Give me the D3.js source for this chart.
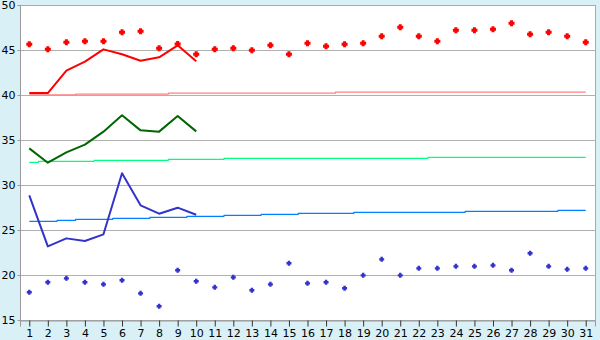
<!DOCTYPE html>
<html><head><meta charset="utf-8">
<script src="https://cdn.jsdelivr.net/npm/d3@7"></script>
<style>body{margin:0;background:#d9f0f7;}svg{display:block}</style>
</head><body>
<svg id="c" width="600" height="340"></svg>
<script>
const days = d3.range(1, 32);
const yTicks = [15, 20, 25, 30, 35, 40, 45, 50];

const redPoints = [45.63,45.07,45.85,45.96,45.96,46.96,47.07,45.19,45.67,44.52,
  45.07,45.19,44.96,45.52,44.52,45.74,45.41,45.63,45.74,46.52,47.52,
  46.52,45.96,47.19,47.19,47.3,47.96,46.74,46.96,46.52,45.85];
const redLine = [40.22,40.22,42.7,43.7,45.07,44.52,43.81,44.19,45.52,43.74];
const pinkLine = [40.02,40.02,40.02,40.1,40.1,40.1,40.1,40.1,40.2,40.2,40.2,40.2,40.2,40.2,40.2,40.2,40.2,
  40.33,40.33,40.33,40.33,40.33,40.33,40.33,40.33,40.33,40.33,40.33,40.33,40.33,40.33];
const greenLine = [34.07,32.48,33.63,34.48,35.93,37.74,36.07,35.93,37.67,35.96];
const lightGreenLine = [32.52,32.63,32.63,32.63,32.74,32.74,32.74,32.74,32.85,32.85,32.85,
  32.96,32.96,32.96,32.96,32.96,32.96,32.96,32.96,32.96,32.96,32.96,
  33.07,33.07,33.07,33.07,33.07,33.07,33.07,33.07,33.07];
const blueLine = [28.85,23.18,24.07,23.78,24.52,31.3,27.74,26.81,27.48,26.7];
const lightBlueLine = [25.96,25.96,26.07,26.19,26.19,26.3,26.3,26.41,26.41,26.52,26.52,
  26.63,26.63,26.74,26.74,26.85,26.85,26.85,26.96,26.96,26.96,26.96,26.96,26.96,
  27.07,27.07,27.07,27.07,27.07,27.19,27.19];
const bluePoints = [18.08,19.19,19.63,19.19,18.96,19.41,17.96,16.52,20.52,19.3,
  18.63,19.74,18.3,18.96,21.3,19.07,19.19,18.52,19.96,21.74,19.96,
  20.74,20.74,20.96,20.96,21.07,20.52,22.41,20.96,20.63,20.74];

const L = 20, R = 595, T = 5, B = 320;
const svg = d3.select("#c");
const x = d3.scalePoint().domain(days).range([L, R]).padding(0.5);
const y = d3.scaleLinear().domain([15, 50]).range([B, T]);

svg.append("rect").attr("x", L + 0.5).attr("y", T + 0.5).attr("width", R - L).attr("height", B - T)
  .attr("fill", "#fff").attr("stroke", "#aaaaaa");

// gridlines
svg.append("g").selectAll("line").data(yTicks.filter(v => v > 15 && v < 50)).join("line")
  .attr("x1", L).attr("x2", R).attr("y1", d => Math.round(y(d)) + 0.5).attr("y2", d => Math.round(y(d)) + 0.5)
  .attr("stroke", "#b0b0b0");

// axes
const ya = svg.append("g").attr("transform", `translate(${L + 0.5},0)`)
  .call(d3.axisLeft(y).tickValues(yTicks).tickSize(3).tickPadding(2).tickFormat(d3.format("d")));
const xa = svg.append("g").attr("transform", `translate(0,${B + 0.5})`)
  .call(d3.axisBottom(x).tickSize(6).tickPadding(3));
[ya, xa].forEach(g => {
  g.select(".domain").attr("stroke", "#999");
  g.selectAll(".tick line").attr("stroke", "#333");
  g.selectAll("text").attr("font-family", "DejaVu Sans, Verdana, sans-serif").attr("font-size", 11).attr("fill", "#000");
});
ya.selectAll(".tick line").attr("stroke", "#999");
ya.select(".domain").remove();
svg.append("line").attr("x1", L + 0.5).attr("x2", L + 0.5).attr("y1", T).attr("y2", B + 1).attr("stroke", "#999");

function drawLine(data, color, width, curve) {
  const ln = d3.line().x((d, i) => x(days[i])).y(d => y(d)).curve(curve || d3.curveLinear);
  svg.append("path").datum(data).attr("d", ln).attr("fill", "none")
    .attr("stroke", color).attr("stroke-width", width).attr("stroke-linejoin", "round");
}

drawLine(pinkLine, "#ff8080", 1.2, d3.curveStep);
drawLine(lightGreenLine, "#00ff80", 1.2, d3.curveStep);
drawLine(lightBlueLine, "#0080ff", 1.2, d3.curveStep);
drawLine(redLine, "#ff0000", 2);
drawLine(greenLine, "#006600", 2);
drawLine(blueLine, "#3333cc", 2);

function plus(s, t) {
  const a = s / 2, b = t / 2;
  return `M${-b},${-a}H${b}V${-b}H${a}V${b}H${b}V${a}H${-b}V${b}H${-a}V${-b}H${-b}Z`;
}
svg.append("g").selectAll("path").data(redPoints).join("path")
  .attr("transform", (d, i) => `translate(${x(days[i])},${y(d)})`)
  .attr("d", plus(6, 3)).attr("fill", "#ff0000");
svg.append("g").selectAll("path").data(bluePoints).join("path")
  .attr("transform", (d, i) => `translate(${x(days[i])},${y(d)})`)
  .attr("d", plus(5, 2.4)).attr("fill", "#3333cc");
</script>
</body></html>
